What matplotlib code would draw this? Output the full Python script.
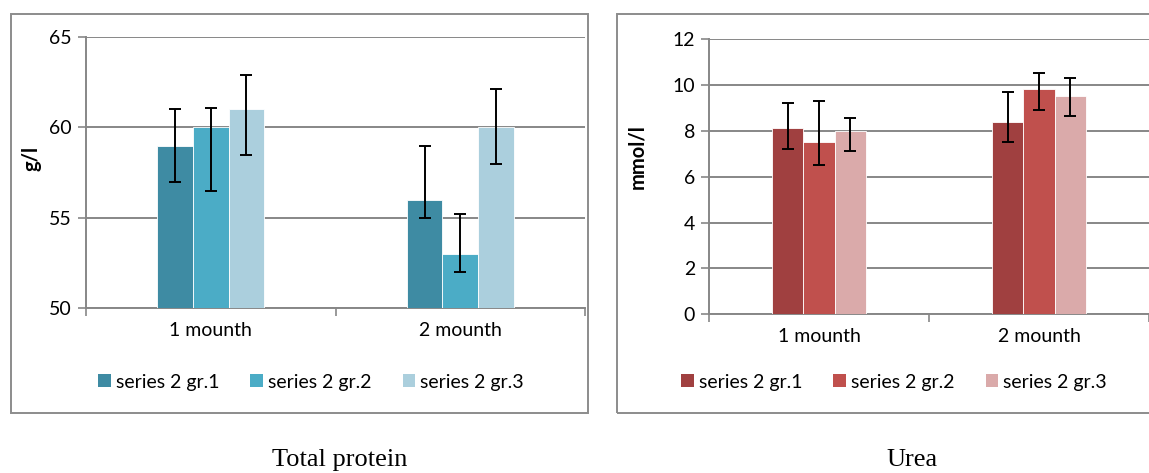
import numpy as np
import matplotlib
matplotlib.use('Agg')
import matplotlib.pyplot as plt
from matplotlib.patches import Patch, Rectangle

categories = ['1 mounth', '2 mounth']
series_names = ['series 2 gr.1', 'series 2 gr.2', 'series 2 gr.3']

# Total protein, g/l
protein = [[59, 56], [60, 53], [61, 60]]
protein_lo = [[57.0, 55.0], [56.5, 52.0], [58.5, 58.0]]
protein_hi = [[61.0, 59.0], [61.1, 55.2], [62.9, 62.1]]

# Urea, mmol/l
urea = [[8.1, 8.4], [7.5, 9.8], [8.0, 9.5]]
urea_lo = [[7.2, 7.5], [6.5, 8.9], [7.1, 8.65]]
urea_hi = [[9.2, 9.7], [9.3, 10.5], [8.55, 10.3]]

blues = ['#3e8ba3', '#4bacc6', '#abcfdd']
reds = ['#a04040', '#c0504d', '#daaaaa']

W, H = 1149, 473
plt.rcParams['font.family'] = ['Lato', 'DejaVu Sans']
fig = plt.figure(figsize=(W / 100, H / 100), dpi=100)

grid_col = '#878787'


def px_axes(left, right, top, bottom):
    return fig.add_axes([left / W, 1 - bottom / H, (right - left) / W, (bottom - top) / H])


def draw(ax, values, lo, hi, colors, ylim, yticks, xmax):
    x = np.arange(len(categories))
    bw = 0.143
    for i in range(3):
        v = np.array(values[i])
        err = np.array([v - np.array(lo[i]), np.array(hi[i]) - v])
        ax.bar(x + (i - 1) * bw, v, bw, color=colors[i], edgecolor='white',
               linewidth=0.6, zorder=3)
        ax.errorbar(x + (i - 1) * bw, v, yerr=err, fmt='none', ecolor='black',
                    elinewidth=1.4, capsize=4.3, capthick=1.4, zorder=4)
    ax.set_xlim(-0.5, xmax)
    ax.set_ylim(*ylim)
    ax.set_yticks(yticks)
    ax.yaxis.grid(True, color=grid_col, linewidth=1.4, zorder=0)
    ax.set_xticks(x)
    ax.set_xticklabels(categories)
    ax.set_xticks([-0.5, 0.5, 1.5], minor=True)
    ax.tick_params(axis='x', which='major', length=0, pad=10, labelsize=14)
    ax.tick_params(axis='x', which='minor', length=6, width=1.2, color=grid_col)
    ax.tick_params(axis='y', length=6, width=1.2, color=grid_col, labelsize=14, pad=4)
    for s in ['top', 'right']:
        ax.spines[s].set_visible(False)
    for s in ['left', 'bottom']:
        ax.spines[s].set_color(grid_col)
        ax.spines[s].set_linewidth(1.4)
    ax.set_axisbelow(True)


ax1 = px_axes(86, 585, 37, 308.3)
draw(ax1, protein, protein_lo, protein_hi, blues, (50, 65), [50, 55, 60, 65], 1.5)

ax2 = px_axes(709, 1149, 39, 314.3)
draw(ax2, urea, urea_lo, urea_hi, reds, (0, 12), [0, 2, 4, 6, 8, 10, 12], 1.447)

# outer chart boxes
fig.patches.append(Rectangle((10.7 / W, 1 - 412.7 / H), (587.7 - 10.7) / W, (412.7 - 14.5) / H,
                             transform=fig.transFigure, fill=False, edgecolor='#8c8c8c', linewidth=1.4))
fig.patches.append(Rectangle((616.8 / W, 1 - 412.7 / H), (1160 - 616.8) / W, (412.7 - 14.5) / H,
                             transform=fig.transFigure, fill=False, edgecolor='#8c8c8c', linewidth=1.4))

fig.text(31 / W, 1 - 158 / H, 'g/l', rotation=90, ha='center', va='center',
         fontsize=14.5, fontweight='bold')
fig.text(637 / W, 1 - 157 / H, 'mmol/l', rotation=90, ha='center', va='center',
         fontsize=14.5, fontweight='bold')

for cols, cx in [(blues, 311), (reds, 894)]:
    handles = [Patch(facecolor=c, edgecolor='none') for c in cols]
    fig.legend(handles, series_names, loc='center', bbox_to_anchor=(cx / W, 1 - 382 / H),
               ncol=3, frameon=False, fontsize=14, handlelength=0.65, handleheight=0.65,
               handletextpad=0.25, columnspacing=1.6, borderpad=0)

fig.text(340 / W, 1 - 460 / H, 'Total protein', ha='center', va='center',
         fontsize=19, family='Liberation Serif')
fig.text(912 / W, 1 - 460 / H, 'Urea', ha='center', va='center',
         fontsize=19, family='Liberation Serif')

plt.savefig('out.png', dpi=100)
